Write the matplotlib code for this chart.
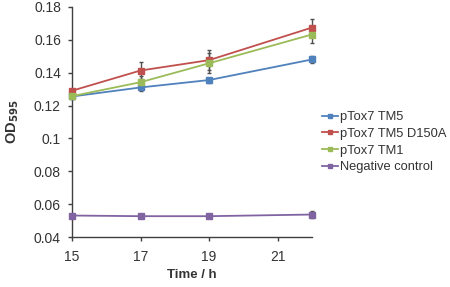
import matplotlib
matplotlib.use("Agg")
import matplotlib.pyplot as plt
import numpy as np

plt.rcParams['font.family'] = ['Liberation Sans', 'DejaVu Sans']

hours = [15, 17, 19, 22]

tm5 = [0.1255, 0.131, 0.1355, 0.148]
tm5_err = [0.0015, 0.002, 0.0015, 0.002]
d150a = [0.129, 0.1413, 0.1476, 0.1674]
d150a_err = [0.001, 0.005, 0.006, 0.005]
tm1 = [0.1257, 0.1342, 0.1457, 0.1632]
tm1_err = [0.001, 0.004, 0.006, 0.005]
neg = [0.0531, 0.0527, 0.0527, 0.0537]
neg_err = [0.0008, 0.0008, 0.0008, 0.002]

labels = ["pTox7 TM5", "pTox7 TM5 D150A", "pTox7 TM1", "Negative control"]
colors = ["#4f81bd", "#c0504d", "#9bbb59", "#8064a2"]

xticks = [15, 17, 19, 21]
yticks = [0.04, 0.06, 0.08, 0.1, 0.12, 0.14, 0.16, 0.18]
ytick_labels = ["0.04", "0.06", "0.08", "0.1", "0.12", "0.14", "0.16", "0.18"]

fig = plt.figure(figsize=(4.5, 2.87), dpi=100)
ax = fig.add_axes([0.16, 0.174, 0.533, 0.802])

series = [(tm5, tm5_err), (d150a, d150a_err), (tm1, tm1_err), (neg, neg_err)]
handles = []
for (vals, errs), col, lab in zip(series, colors, labels):
    eb = ax.errorbar(hours, vals, yerr=errs, fmt='none', ecolor='#505050',
                     elinewidth=1, capsize=1.5, capthick=1, zorder=2)
    for art in eb.lines[1] + eb.lines[2]:
        art.set_clip_on(False)
    h, = ax.plot(hours, vals, color=col, lw=1.3, marker='s', ms=4,
                 mec=col, mfc=col, label=lab, zorder=3, clip_on=False)
    handles.append(h)

ax.set_xlim(15, 22)
ax.set_ylim(0.04, 0.18)
ax.set_xticks(xticks)
ax.set_yticks(yticks)
ax.set_yticklabels(ytick_labels)

grey = '#404040'
for s in ['top', 'right']:
    ax.spines[s].set_visible(False)
for s in ['left', 'bottom']:
    ax.spines[s].set_color(grey)
    ax.spines[s].set_linewidth(1)
ax.tick_params(direction='out', length=3, width=1, colors=grey,
               labelsize=10, labelcolor='#333333')
ax.tick_params(axis='x', pad=6)
ax.tick_params(axis='y', pad=5)

ax.set_xlabel("Time / h", fontsize=9.5, fontweight='bold', color='#333333',
              labelpad=4)
ax.set_ylabel("OD$_{\\mathbf{595}}$", fontsize=10.5, fontweight='bold',
              color='#333333', labelpad=9)

fig.legend(handles=handles, loc='upper left', bbox_to_anchor=(0.705, 0.63),
           frameon=False, fontsize=9.3, handlelength=1.2, handletextpad=0.2,
           labelspacing=0.35, borderaxespad=0, labelcolor='#333333',
           markerscale=0.8)

fig.savefig("out.png", dpi=100)
